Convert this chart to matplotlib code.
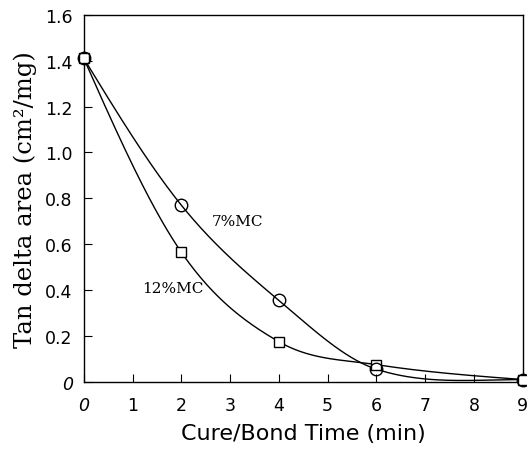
import matplotlib
matplotlib.use("Agg")
import matplotlib.pyplot as plt
import numpy as np

# ---------------------------------------------------------------------------
# Data
# ---------------------------------------------------------------------------
time_min = [0, 2, 4, 6, 9]
mc7_area = [1.41, 0.77, 0.355, 0.055, 0.01]
mc12_area = [1.41, 0.565, 0.175, 0.075, 0.01]

x_ticks = [0, 1, 2, 3, 4, 5, 6, 7, 8, 9]
y_ticks = [0, 0.2, 0.4, 0.6, 0.8, 1.0, 1.2, 1.4, 1.6]
y_tick_labels = ['0', '0.2', '0.4', '0.6', '0.8', '1.0', '1.2', '1.4', '1.6']


def smooth_line(x, y, xs):
    """Hermite curve through the data points: central-difference tangents
    inside, zero-curvature tangents at the ends (kept monotone)."""
    x = np.asarray(x, float)
    y = np.asarray(y, float)
    n = len(x)
    h = np.diff(x)
    delta = np.diff(y) / h
    d = np.empty(n)
    d[1:-1] = (y[2:] - y[:-2]) / (x[2:] - x[:-2])
    d[0] = (3 * delta[0] - d[1]) / 2
    d[-1] = (3 * delta[-1] - d[-2]) / 2
    for k, dk in ((0, delta[0]), (-1, delta[-1])):
        if np.sign(d[k]) != np.sign(dk):
            d[k] = 0.0

    idx = np.clip(np.searchsorted(x, xs) - 1, 0, n - 2)
    t = (xs - x[idx]) / h[idx]
    h00 = 2 * t**3 - 3 * t**2 + 1
    h10 = t**3 - 2 * t**2 + t
    h01 = -2 * t**3 + 3 * t**2
    h11 = t**3 - t**2
    return (h00 * y[idx] + h10 * h[idx] * d[idx]
            + h01 * y[idx + 1] + h11 * h[idx] * d[idx + 1])


fig = plt.figure(figsize=(5.27, 4.52), dpi=100)
ax = fig.add_axes([0.159, 0.153, 0.833, 0.812])

xs = np.linspace(time_min[0], time_min[-1], 400)
ax.plot(xs, smooth_line(time_min, mc7_area, xs), color='black', lw=1.0)
ax.plot(xs, smooth_line(time_min, mc12_area, xs), color='black', lw=1.0)

ax.plot(time_min, mc12_area, linestyle='None', marker='s', markersize=7.5,
        markerfacecolor='white', markeredgecolor='black', mew=1.0,
        clip_on=False, zorder=3)
ax.plot(time_min, mc7_area, linestyle='None', marker='o', markersize=9,
        markerfacecolor='none', markeredgecolor='black', mew=1.0,
        clip_on=False, zorder=4)

ax.text(2.62, 0.70, '7%MC', family='DejaVu Serif', fontsize=11,
        va='center', ha='left')
ax.text(1.19, 0.41, '12%MC', family='DejaVu Serif', fontsize=11,
        va='center', ha='left')

ax.set_xlim(0, 9)
ax.set_ylim(0, 1.6)
ax.set_xticks(x_ticks)
ax.set_yticks(y_ticks)
ax.set_yticklabels(y_tick_labels)
ax.tick_params(direction='in', length=6, width=0.8, labelsize=12.5)
ax.tick_params(axis='x', pad=10)
ax.tick_params(axis='y', pad=8)
for lbl in [ax.get_xticklabels()[0], ax.get_yticklabels()[0]]:
    lbl.set_style('italic')
for sp in ax.spines.values():
    sp.set_linewidth(1.0)

ax.set_xlabel('Cure/Bond Time (min)', fontsize=16, labelpad=7)
ax.set_ylabel('Tan delta area (cm\u00b2/mg)', family='DejaVu Serif',
              fontsize=17.5, labelpad=6)

fig.savefig('out.png', dpi=100)
